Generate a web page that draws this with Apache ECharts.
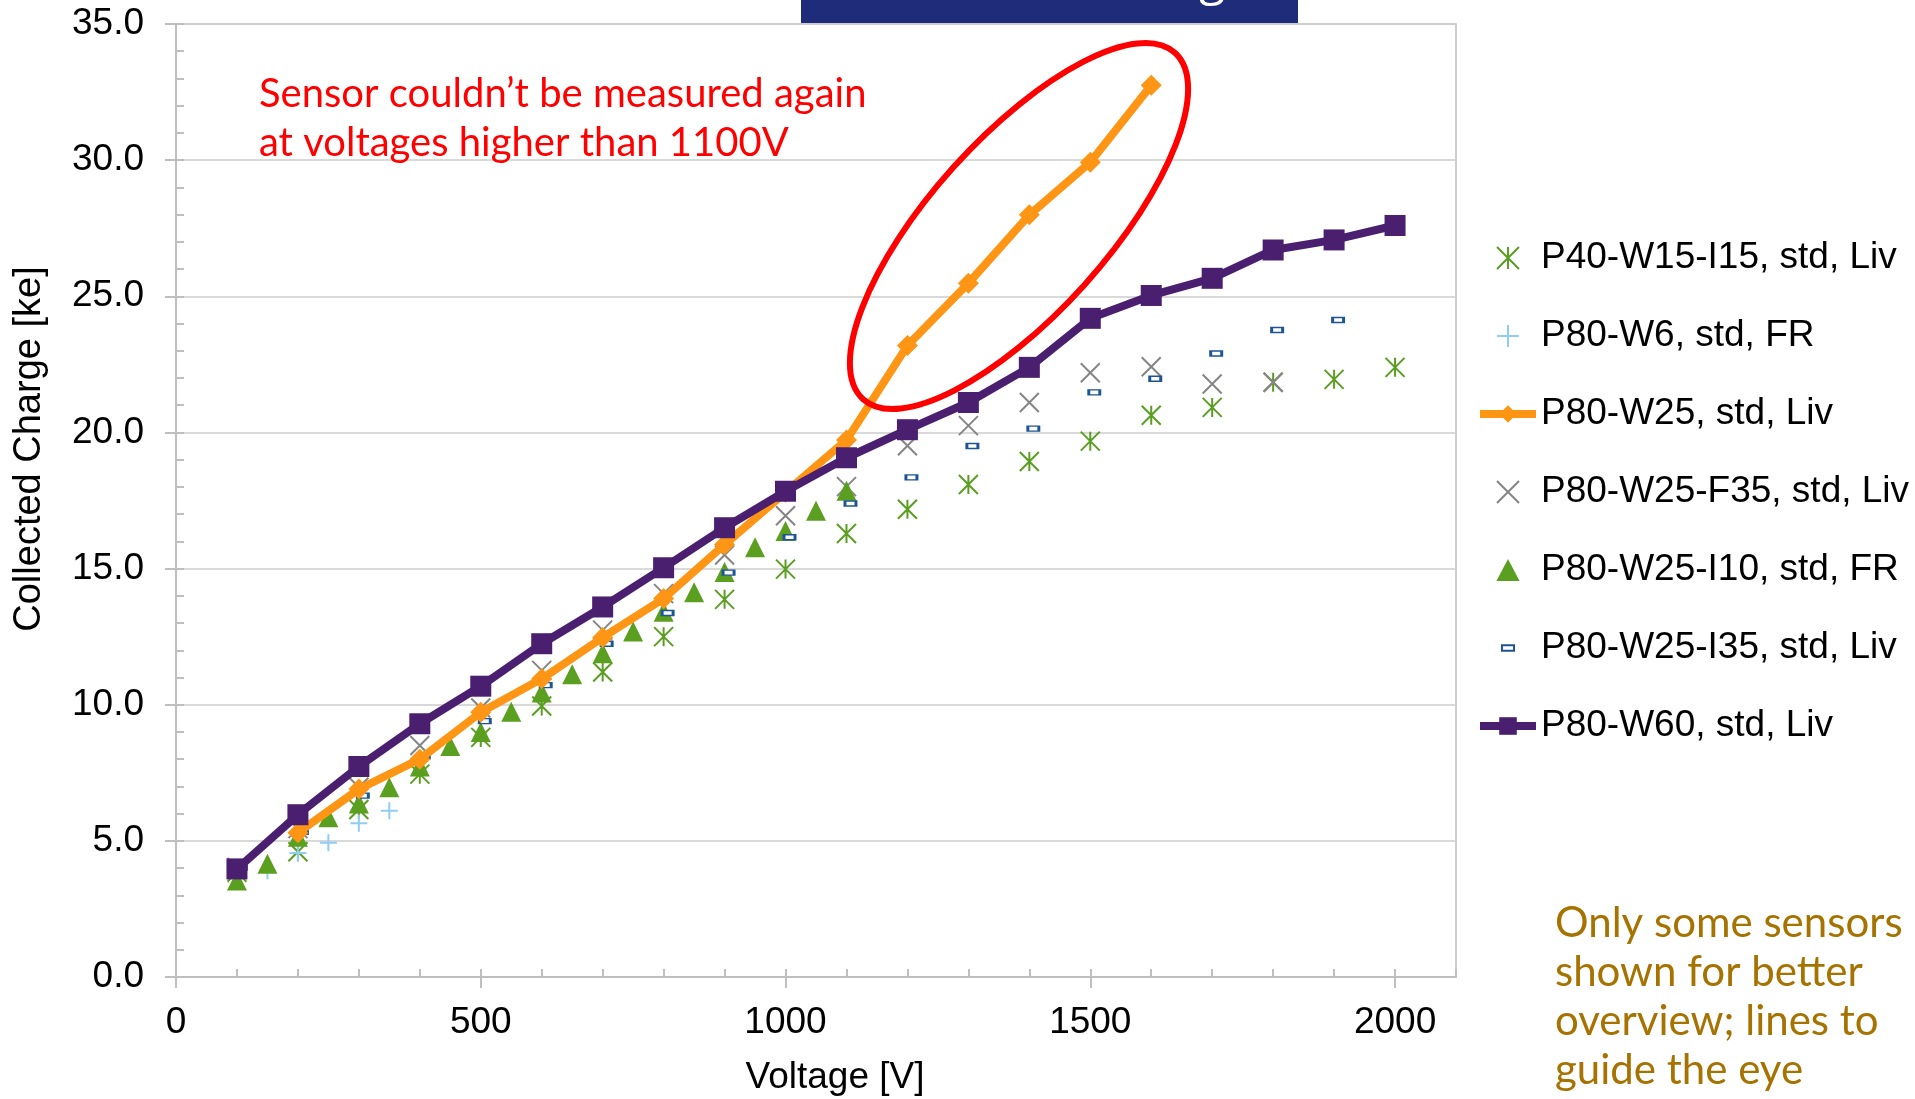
<!DOCTYPE html>
<html>
<head>
<meta charset="utf-8">
<script src="https://cdn.jsdelivr.net/npm/echarts@6/dist/echarts.min.js"></script>
<style>
html,body{margin:0;padding:0;background:#fff;}
#chart{width:1915px;height:1099px;}
</style>
</head>
<body>
<div id="chart"></div>
<script>
// ---------- data ----------
const seriesNames = [
  'P40-W15-I15, std, Liv',
  'P80-W6, std, FR',
  'P80-W25, std, Liv',
  'P80-W25-F35, std, Liv',
  'P80-W25-I10, std, FR',
  'P80-W25-I35, std, Liv',
  'P80-W60, std, Liv'
];
const voltP40 = [100,200,300,400,500,600,700,800,900,1000,1100,1200,1300,1400,1500,1600,1700,1800,1900,2000];
const chargeP40 = [3.85,4.6,6.15,7.45,8.8,9.95,11.2,12.5,13.87,14.98,16.29,17.18,18.09,18.93,19.68,20.63,20.92,21.84,21.95,22.39];

const voltW6 = [150,200,250,300,350];
const chargeW6 = [3.9,4.55,4.93,5.65,6.11];

const voltW25 = [200,300,400,500,600,700,800,900,1000,1100,1200,1300,1400,1500,1600];
const chargeW25 = [5.3,6.9,8.0,9.72,10.95,12.47,13.9,15.88,17.8,19.72,23.19,25.48,27.99,29.92,32.75];

const voltF35 = [100,200,300,400,500,600,700,800,900,1000,1100,1200,1300,1400,1500,1600,1700,1800];
const chargeF35 = [4.02,5.45,6.97,8.5,9.88,11.26,12.74,14.08,15.5,16.94,18.01,19.51,20.25,21.1,22.19,22.41,21.78,21.84];

const voltI10 = [100,150,200,250,300,350,400,450,500,550,600,650,700,750,800,850,900,950,1000,1050,1100];
const chargeI10 = [3.54,4.16,5.15,5.87,6.37,6.97,7.73,8.48,9.0,9.74,10.45,11.12,11.89,12.69,13.41,14.13,14.87,15.78,16.38,17.12,17.86];

const voltI35 = [100,200,300,400,500,600,700,800,900,1000,1100,1200,1300,1400,1500,1600,1700,1800,1900];
const chargeI35 = [4.02,5.33,6.66,8.1,9.4,10.72,12.24,13.37,14.85,16.15,17.39,18.35,19.5,20.14,21.47,21.97,22.9,23.76,24.13];

const voltW60 = [100,200,300,400,500,600,700,800,900,1000,1100,1200,1300,1400,1500,1600,1700,1800,1900,2000];
const chargeW60 = [3.97,5.96,7.73,9.3,10.68,12.24,13.59,15.03,16.5,17.84,19.07,20.1,21.1,22.39,24.19,25.03,25.66,26.7,27.07,27.6];

const xTicksMajor = 500;
const xTicksMinor = 100;
const yTicksMajor = 5;
const yTicksMinor = 1;

// ---------- build ----------
const pairs = (xs, ys) => xs.map((x, i) => [x, ys[i]]);
const FONT = '"Liberation Sans", Arial, sans-serif';
const axisGray = '#bfbfbf';

const chart = echarts.init(document.getElementById('chart'), null, {renderer: 'canvas'});

const option = {
  backgroundColor: '#ffffff',
  animation: false,
  grid: {left: 176, top: 24, width: 1280, height: 953, show: true, borderColor: axisGray, borderWidth: 1.5, backgroundColor: 'transparent'},
  xAxis: [
    {
      type: 'value', min: 0, max: 2100, interval: xTicksMajor, position: 'bottom',
      axisLine: {show: true, onZero: false, lineStyle: {color: axisGray, width: 2}},
      axisTick: {show: true, inside: false, length: 11, lineStyle: {color: axisGray, width: 2}},
      axisLabel: {show: true, margin: 27, fontSize: 37, fontFamily: FONT, color: '#000', showMaxLabel: false, formatter: v => String(v)},
      splitLine: {show: false}
    },
    {
      type: 'value', min: 0, max: 2100, interval: xTicksMinor, position: 'bottom',
      axisLine: {show: false, onZero: false},
      axisTick: {show: true, inside: true, length: 8, lineStyle: {color: axisGray, width: 2}},
      axisLabel: {show: false},
      splitLine: {show: false}
    }
  ],
  yAxis: [
    {
      type: 'value', min: 0, max: 35, interval: yTicksMajor, position: 'left',
      axisLine: {show: true, onZero: false, lineStyle: {color: axisGray, width: 2}},
      axisTick: {show: true, inside: false, length: 11, lineStyle: {color: axisGray, width: 2}},
      axisLabel: {show: true, margin: 32, fontSize: 37, fontFamily: FONT, color: '#000', formatter: v => v.toFixed(1)},
      splitLine: {show: true, lineStyle: {color: '#cccccc', width: 1.5}}
    },
    {
      type: 'value', min: 0, max: 35, interval: yTicksMinor, position: 'left',
      axisLine: {show: false, onZero: false},
      axisTick: {show: true, inside: true, length: 8, lineStyle: {color: axisGray, width: 2}},
      axisLabel: {show: false},
      splitLine: {show: false}
    }
  ],
  legend: {
    orient: 'vertical', left: 1471, top: 233, itemWidth: 56, itemHeight: 22, itemGap: 38,
    selectedMode: false, symbolKeepAspect: true,
    textStyle: {fontSize: 37, fontFamily: FONT, color: '#000', lineHeight: 40},
    data: [
      {name: seriesNames[0]},
      {name: seriesNames[1]},
      {name: seriesNames[2], lineStyle: {width: 8}},
      {name: seriesNames[3]},
      {name: seriesNames[4], icon: 'path://M10,0L20,19L0,19Z'},
      {name: seriesNames[5], icon: 'path://M0,0M20,20M4.5,7.5L15.5,7.5L15.5,12.5L4.5,12.5Z'},
      {name: seriesNames[6], lineStyle: {width: 8}}
    ]
  },
  series: [
    {
      name: seriesNames[0], type: 'scatter', xAxisIndex: 0, yAxisIndex: 0,
      symbol: 'path://M0,0L10,10M10,0L0,10M5,0L5,10', symbolSize: 19,
      itemStyle: {color: 'rgba(0,0,0,0)', borderColor: '#5a9e21', borderWidth: 2, opacity: 1},
      data: pairs(voltP40, chargeP40)
    },
    {
      name: seriesNames[1], type: 'scatter', xAxisIndex: 0, yAxisIndex: 0,
      symbol: 'path://M5,0L5,10M0,5L10,5', symbolSize: 17,
      itemStyle: {color: 'rgba(0,0,0,0)', borderColor: '#8fcdf4', borderWidth: 2, opacity: 1},
      data: pairs(voltW6, chargeW6)
    },
    {
      name: seriesNames[2], type: 'line', xAxisIndex: 0, yAxisIndex: 0,
      symbol: 'diamond', symbolSize: 21, showSymbol: true, showAllSymbol: true,
      lineStyle: {color: '#ff9515', width: 8},
      itemStyle: {color: '#ff9515'},
      data: pairs(voltW25, chargeW25)
    },
    {
      name: seriesNames[3], type: 'scatter', xAxisIndex: 0, yAxisIndex: 0,
      symbol: 'path://M0,0L10,10M10,0L0,10', symbolSize: 19,
      itemStyle: {color: 'rgba(0,0,0,0)', borderColor: '#858585', borderWidth: 2, opacity: 1},
      data: pairs(voltF35, chargeF35)
    },
    {
      name: seriesNames[4], type: 'scatter', xAxisIndex: 0, yAxisIndex: 0,
      symbol: 'triangle', symbolSize: 20,
      itemStyle: {color: '#5a9f1f', opacity: 1},
      data: pairs(voltI10, chargeI10)
    },
    {
      name: seriesNames[5], type: 'scatter', xAxisIndex: 0, yAxisIndex: 0,
      symbol: 'rect', symbolSize: [11, 5], symbolOffset: [4, 0],
      itemStyle: {color: '#ffffff', borderColor: '#1c5496', borderWidth: 2, opacity: 1},
      data: pairs(voltI35, chargeI35)
    },
    {
      name: seriesNames[6], type: 'line', xAxisIndex: 0, yAxisIndex: 0,
      symbol: 'rect', symbolSize: 21, showSymbol: true, showAllSymbol: true,
      lineStyle: {color: '#4b1f70', width: 8},
      itemStyle: {color: '#4b1f70'},
      data: pairs(voltW60, chargeW60)
    }
  ],
  graphic: [
    {type: 'rect', shape: {x: 801, y: 0, width: 497, height: 23}, style: {fill: '#1f2c7a'}, z: 10},
    {type: 'text', x: 1252, y: 5, z: 11, style: {text: 'Collected Charge', font: '48px "Open Sans"', fill: '#ffffff', align: 'right', verticalAlign: 'bottom'}},
    {type: 'ellipse', shape: {cx: 0, cy: 0, rx: 233, ry: 88}, x: 1019, y: 226, rotation: 48 * Math.PI / 180,
      style: {fill: 'none', stroke: '#ff0000', lineWidth: 6}, z: 10},
    {type: 'text', x: 259, y: 70, z: 10, style: {text: 'Sensor couldn\u2019t be measured again\nat voltages higher than 1100V', font: '40px Lato', lineHeight: 49, fill: '#ff0000', align: 'left', verticalAlign: 'top'}},
    {type: 'text', x: 1555, y: 899, z: 10, style: {text: 'Only some sensors\nshown for better\noverview; lines to\nguide the eye', font: '42px Lato', lineHeight: 49, fill: '#a67200', align: 'left', verticalAlign: 'top'}},
    {type: 'text', x: 30, y: 449, rotation: Math.PI / 2, z: 10, style: {text: 'Collected Charge [ke]', font: '38px "Liberation Sans"', fill: '#000', align: 'center', verticalAlign: 'middle'}},
    {type: 'text', x: 835, y: 1078, z: 10, style: {text: 'Voltage [V]', font: '37px "Liberation Sans"', fill: '#000', align: 'center', verticalAlign: 'middle'}}
  ]
};
chart.setOption(option);
</script>
</body>
</html>
